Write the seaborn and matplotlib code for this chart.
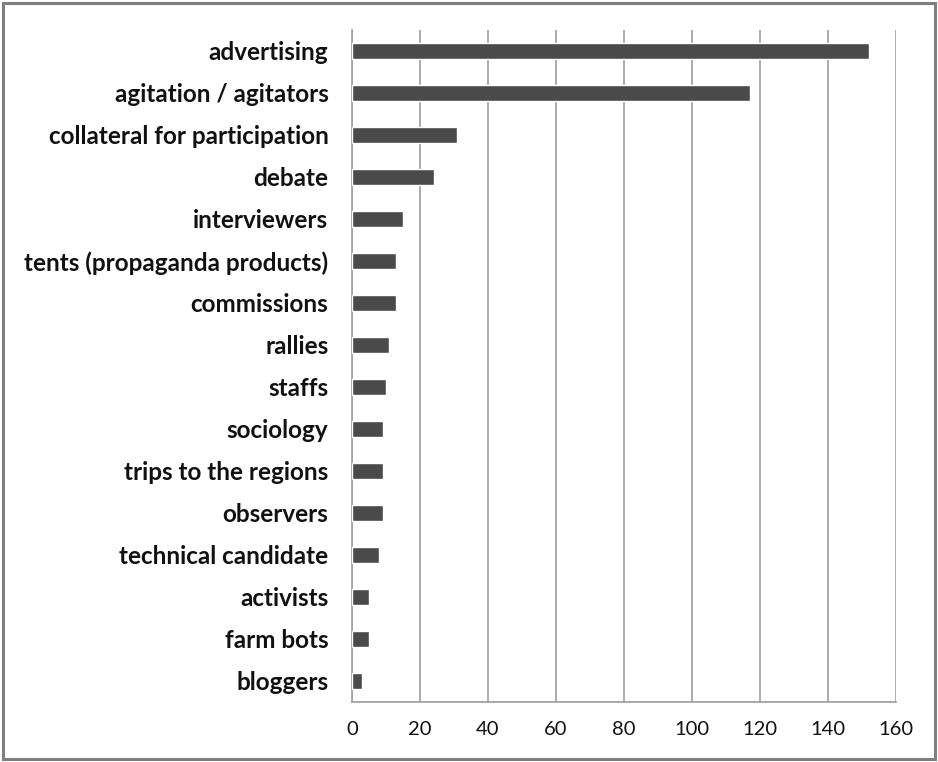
import matplotlib
matplotlib.use("Agg")
import matplotlib.pyplot as plt
import seaborn as sns
import pandas as pd
from matplotlib.patches import Rectangle

categories = [
    "advertising", "agitation / agitators", "collateral for participation",
    "debate", "interviewers", "tents (propaganda products)", "commissions",
    "rallies", "staffs", "sociology", "trips to the regions", "observers",
    "technical candidate", "activists", "farm bots", "bloggers",
]
counts = [152, 117, 31, 24, 15, 13, 13, 11, 10, 9, 9, 9, 8, 5, 5, 3]
x_ticks = [0, 20, 40, 60, 80, 100, 120, 140, 160]

df = pd.DataFrame({"category": categories, "count": counts})

sns.set_style("white")
plt.rcParams["font.family"] = ["Lato", "DejaVu Sans"]

fig = plt.figure(figsize=(9.38, 7.62), dpi=100)
ax = fig.add_axes([352 / 938, 1 - 702 / 762, (896 - 352) / 938, (702 - 30) / 762])

sns.barplot(data=df, x="count", y="category", orient="h", color="#4a4a4a",
            saturation=1, width=0.39, ax=ax, zorder=3)

grid_c = "#a3a3a3"
ax.set_xlim(0, 160)
ax.set_ylim(len(categories) - 0.5, -0.5)
ax.set_xticks(x_ticks)
ax.set_xticklabels([str(t) for t in x_ticks], fontsize=14.5, color="#111111")
ax.xaxis.grid(True, color=grid_c, linewidth=1.3, zorder=0)
ax.yaxis.grid(False)
ax.set_axisbelow(True)

# category labels centred on bars, boundary ticks between categories
n = len(categories)
ax.set_yticks([i - 0.5 for i in range(n + 1)])
ax.set_yticklabels([])
ax.set_yticks(list(range(n)), minor=True)
ax.set_yticklabels(categories, minor=True, fontsize=17.5, fontweight="bold",
                   color="#111111")
ax.tick_params(axis="y", which="minor", length=0, pad=17)
ax.tick_params(axis="y", which="major", length=7, width=1.2, color=grid_c,
               direction="out")
ax.tick_params(axis="x", length=7, width=1.2, color=grid_c, direction="out",
               pad=7)

ax.set_xlabel("")
ax.set_ylabel("")
for side in ("top", "right"):
    ax.spines[side].set_visible(False)
for side in ("left", "bottom"):
    ax.spines[side].set_color(grid_c)
    ax.spines[side].set_linewidth(1.3)

# outer chart border
fig.patches.append(Rectangle((3 / 938, 3 / 762), 932 / 938, 756 / 762,
                             transform=fig.transFigure, fill=False,
                             edgecolor="#7f7f7f", linewidth=2.2))

fig.savefig("out.png", dpi=100)
